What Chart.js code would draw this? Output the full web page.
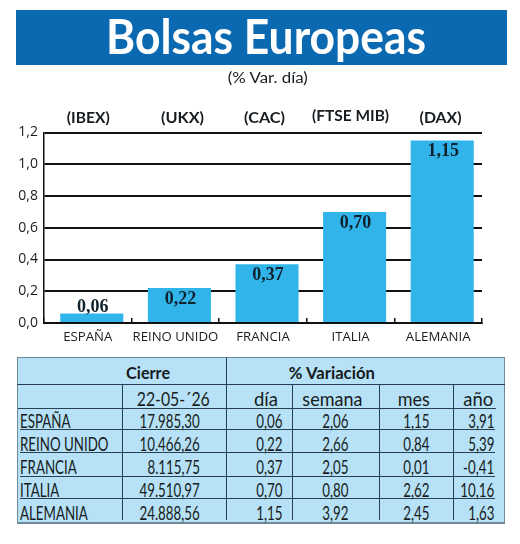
<!DOCTYPE html>
<html><head><meta charset="utf-8">
<script src="https://cdn.jsdelivr.net/npm/chart.js@4"></script>
<style>
html,body{margin:0;padding:0;background:#fff;width:520px;height:544px;overflow:hidden}
canvas{position:absolute;left:0;top:0}
.t{position:absolute;white-space:nowrap;line-height:1;font-family:Lato,sans-serif;color:#161c20}
.l{position:absolute}
</style></head><body>
<canvas id="c" width="520" height="544"></canvas>
<div id="o"></div>
<script>
const categories=['ESPAÑA','REINO UNIDO','FRANCIA','ITALIA','ALEMANIA'];
const indices=['(IBEX)','(UKX)','(CAC)','(FTSE MIB)','(DAX)'];
const values=[0.06,0.22,0.37,0.70,1.15];
const yTicks=[0,0.2,0.4,0.6,0.8,1.0,1.2];
const cierre=['17.985,30','10.466,26','8.115,75','49.510,97','24.888,56'];
const dia=['0,06','0,22','0,37','0,70','1,15'];
const semana=['2,06','2,66','2,05','0,80','3,92'];
const mes=['1,15','0,84','0,01','2,62','2,45'];
const anio=['3,91','5,39','-0,41','10,16','1,63'];
const o=document.getElementById('o');
function box(x,y,w,h,c){const d=document.createElement('div');d.className='l';d.style.cssText=`left:${x}px;top:${y}px;width:${w}px;height:${h}px;background:${c}`;o.appendChild(d);}
function text(s,x,y,size,a,opts={}){
  const d=document.createElement('div');d.className='t';d.textContent=s;
  d.style.fontSize=size+'px';d.style.top=(y-size/2)+'px';
  if(opts.weight)d.style.fontWeight=opts.weight;
  if(opts.color)d.style.color=opts.color;
  if(opts.font)d.style.fontFamily=opts.font;
  o.appendChild(d);
  const real=d.getBoundingClientRect().width;
  const sx=opts.w?opts.w/real:(opts.sx||1);
  const left=a==='l'?x:a==='c'?x-real/2:x-real;
  d.style.left=left+'px';
  d.style.transformOrigin=a==='l'?'left center':a==='c'?'center center':'right center';
  d.style.transform=`scaleX(${sx})`;
}
box(16,10,491,55,'#0b69b1');
text('Bolsas Europeas',266,36,48,'c',{weight:700,color:'#fff',w:320});
text('(% Var. día)',268,78,15.5,'c',{w:80});
const idxX=[88,183,265,351,441],idxY=[118,118,118,116,118];
const idxW=[43,43,41,77,42];
indices.forEach((s,i)=>text(s,idxX[i],idxY[i],15.5,'c',{weight:700,w:idxW[i]}));
box(17,357,488,166,'#b6e1f7');
const line='#28404f';
box(17,357,488,1,'#6f8a99');box(17,522,488,2,'#6f8a99');box(504,357,1,166,'#6f8a99');box(17,357,1,166,'#6f8a99');
box(17,384,488,1,line);box(18,408,478,1,line);
[429,452,476,498].forEach(y=>box(20,y,475,1,line));
box(226,357,1,163,line);
[122,292,379,453].forEach(x=>box(x,385,1,135,line));
text('Cierre',148,372,17,'c',{weight:700,w:44});
text('% Variación',332,372,17,'c',{weight:700,w:86});
text('22-05-´26',173.5,398,20,'c',{w:73});
text('día',265.5,398,20,'c',{w:24});
text('semana',332,398,20,'c',{w:60});
text('mes',414,398,20,'c',{w:32});
text('año',478,398,20,'c',{w:30});
const rowY=[421,444,467,490,513];
const sx=.72;
categories.forEach((s,i)=>{
  text(s,20,rowY[i],18.5,'l',{sx});
  text(cierre[i],200,rowY[i],18.5,'r',{sx});
  text(dia[i],282,rowY[i],18.5,'r',{sx});
  text(semana[i],348,rowY[i],18.5,'r',{sx});
  text(mes[i],429,rowY[i],18.5,'r',{sx});
  text(anio[i],494,rowY[i],18.5,'r',{sx});
});
const barShift=4;
const shiftBars={id:'shiftBars',
  beforeDatasetsDraw(c){c.ctx.save();c.ctx.translate(barShift,0);},
  afterDatasetsDraw(c){c.ctx.restore();}};
const valueLabels={id:'valueLabels',afterDatasetsDraw(c){
  const ctx=c.ctx,m=c.getDatasetMeta(0);ctx.save();
  ctx.font='bold 18px "Liberation Serif",serif';ctx.fillStyle='#10222e';ctx.textAlign='center';ctx.textBaseline='middle';
  m.data.forEach((b,i)=>{
    const v=values[i];
    const inside=b.base-b.y>20;
    ctx.fillText(v.toFixed(2).replace('.',','),b.x+barShift+1,inside?b.y+11:b.y-6);
  });
  ctx.restore();}};
new Chart(document.getElementById('c'),{
  type:'bar',
  data:{labels:categories,datasets:[{data:values,backgroundColor:'#30b4ea',borderWidth:0,barPercentage:.72,categoryPercentage:1}]},
  plugins:[shiftBars,valueLabels],
  options:{
    responsive:false,animation:false,devicePixelRatio:1,
    layout:{padding:{left:0,top:132.5,right:38,bottom:0}},
    plugins:{legend:{display:false},tooltip:{enabled:false},title:{display:false}},
    scales:{
      x:{
        grid:{display:true,drawOnChartArea:false,drawTicks:true,tickLength:-5,color:'#111',lineWidth:1.5},
        border:{color:'#111',width:2},
        ticks:{color:'#1c1c1c',font:{family:'"Open Sans"',size:13.2},padding:11,maxRotation:0,autoSkip:false},
        afterFit(s){s.height=221;s.paddingLeft=0;s.paddingRight=0;}
      },
      y:{
        min:0,max:1.2,
        afterBuildTicks(s){s.ticks=yTicks.map(v=>({value:v}));},
        grid:{color:'#111',lineWidth:2,drawTicks:false},
        border:{color:'#111',width:1.5},
        ticks:{color:'#1c1c1c',font:{family:'"Open Sans"',size:14},padding:6,
          callback:v=>v.toFixed(1).replace('.',',')},
        afterFit(s){s.width=44;s.paddingTop=0;s.paddingBottom=0;}
      }
    }
  }
});
</script>
</body></html>
